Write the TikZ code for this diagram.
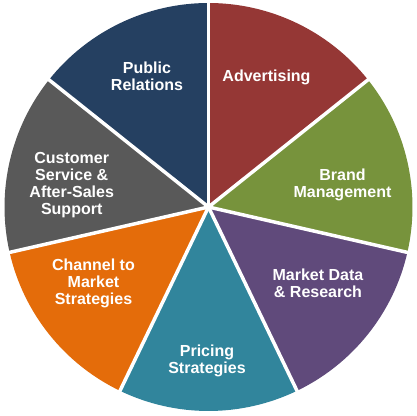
\documentclass[tikz,border=0pt]{standalone}
\usepackage{fontspec}
\setmainfont{Liberation Sans}
\definecolor{cRed}{HTML}{953735}
\definecolor{cGreen}{HTML}{77933C}
\definecolor{cPurple}{HTML}{604A7B}
\definecolor{cTeal}{HTML}{31859C}
\definecolor{cOrange}{HTML}{E46C0A}
\definecolor{cGray}{HTML}{595959}
\definecolor{cNavy}{HTML}{254061}
\begin{document}
\begin{tikzpicture}[x=1pt,y=1pt,
  lbl/.style={text=white,font=\fontsize{16}{16.8}\selectfont\bfseries,align=center,inner sep=0pt}]
\useasboundingbox (0,0) rectangle (416,416);
\fill[white] (0,0) rectangle (416,416);
\coordinate (C) at (208.5,209);
\def\R{204}
\foreach \col [count=\i from 0] in {cRed,cGreen,cPurple,cTeal,cOrange,cGray,cNavy} {
  \pgfmathsetmacro\aa{90-\i*360/7}
  \pgfmathsetmacro\ab{90-(\i+1)*360/7}
  \fill[\col] (C) -- ++(\aa:\R) arc[start angle=\aa,end angle=\ab,radius=\R] -- cycle;
}
\foreach \i in {0,...,6} {
  \pgfmathsetmacro\aa{90-\i*360/7}
  \draw[white,line width=3.5pt] (C) -- ++(\aa:\R+3);
}
\node[lbl] (pr) at (147,340) {Public\\Relations};
\node[lbl] (ad) at (266.5,339) {Advertising};
\node[lbl] (bm) at (342.5,231) {Brand\\Management};
\node[lbl] (md) at (318,132.5) {Market Data\\\& Research};
\node[lbl] (ps) at (207,55) {Pricing\\Strategies};
\node[lbl] (ch) at (93.5,132.5) {Channel to\\Market\\Strategies};
\node[lbl] (cs) at (71.7,231) {Customer\\Service \&\\After-Sales\\Support};
\end{tikzpicture}
\end{document}
